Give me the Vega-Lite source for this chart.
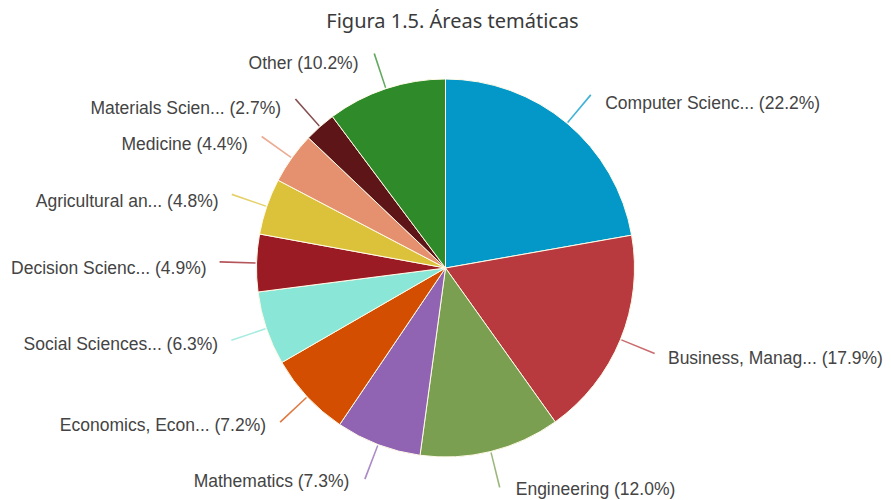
{
  "$schema": "https://vega.github.io/schema/vega-lite/v6.json",
  "width": 891,
  "height": 464,
  "autosize": {"type": "none"},
  "padding": {"top": 36, "left": 0, "right": 0, "bottom": 0},
  "background": "white",
  "title": {
    "text": "Figura 1.5. Áreas temáticas",
    "font": "Noto Sans",
    "fontSize": 20,
    "fontWeight": "normal",
    "color": "#3a3a3a",
    "anchor": "middle",
    "frame": "group",
    "offset": 4,
    "dx": 7
  },
  "data": {
    "values": [
      {"order": 1, "name": "Computer Scienc...", "share": 22.2},
      {"order": 2, "name": "Business, Manag...", "share": 17.9},
      {"order": 3, "name": "Engineering", "share": 12.0},
      {"order": 4, "name": "Mathematics", "share": 7.3},
      {"order": 5, "name": "Economics, Econ...", "share": 7.2},
      {"order": 6, "name": "Social Sciences...", "share": 6.3},
      {"order": 7, "name": "Decision Scienc...", "share": 4.9},
      {"order": 8, "name": "Agricultural an...", "share": 4.8},
      {"order": 9, "name": "Medicine", "share": 4.4},
      {"order": 10, "name": "Materials Scien...", "share": 2.7},
      {"order": 11, "name": "Other", "share": 10.2}
    ]
  },
  "transform": [
    {"joinaggregate": [{"op": "sum", "field": "share", "as": "total"}]},
    {"window": [{"op": "sum", "field": "share", "as": "cum"}], "sort": [{"field": "order", "order": "ascending"}], "frame": [null, 0]},
    {"calculate": "datum.cum - datum.share / 2", "as": "mid"},
    {"calculate": "datum.mid - 0.06", "as": "a1"},
    {"calculate": "datum.mid + 0.06", "as": "a2"},
    {"calculate": "datum.mid < datum.total / 2 ? 'right' : 'left'", "as": "side"},
    {"calculate": "datum.name + ' (' + format(datum.share, '.1f') + '%)'", "as": "label"}
  ],
  "layer": [
    {
      "mark": {"type": "arc", "outerRadius": 189, "stroke": "#fffbe8", "strokeWidth": 1},
      "encoding": {
        "theta": {"field": "share", "type": "quantitative", "stack": true},
        "order": {"field": "order", "type": "quantitative"},
        "color": {
          "field": "name",
          "type": "nominal",
          "legend": null,
          "scale": {
            "domain": ["Computer Scienc...", "Business, Manag...", "Engineering", "Mathematics", "Economics, Econ...", "Social Sciences...", "Decision Scienc...", "Agricultural an...", "Medicine", "Materials Scien...", "Other"],
            "range": ["#0398c8", "#b83a3f", "#7a9f51", "#9063b3", "#d44e02", "#8ae6d6", "#9b1b24", "#dcc23a", "#e5906f", "#5e1518", "#2f8b2a"]
          }
        }
      }
    },
    {
      "mark": {"type": "arc", "outerRadius": 226, "innerRadius": 190, "opacity": 0.75},
      "encoding": {
        "theta": {"field": "a1", "type": "quantitative", "stack": null},
        "theta2": {"field": "a2"},
        "color": {"field": "name", "type": "nominal", "legend": null}
      }
    },
    {
      "transform": [{"filter": "datum.side == 'right'"}],
      "mark": {"type": "text", "align": "left", "baseline": "middle", "font": "Liberation Sans", "fontSize": 17.5, "color": "#444444", "dx": 17, "dy": 6.5},
      "encoding": {
        "theta": {"field": "mid", "type": "quantitative", "stack": null},
        "radius": {"value": 222},
        "text": {"field": "label"}
      }
    },
    {
      "transform": [{"filter": "datum.side == 'left'"}],
      "mark": {"type": "text", "align": "right", "baseline": "middle", "font": "Liberation Sans", "fontSize": 17.5, "color": "#444444", "dx": -17, "dy": 6.5},
      "encoding": {
        "theta": {"field": "mid", "type": "quantitative", "stack": null},
        "radius": {"value": 222},
        "text": {"field": "label"}
      }
    }
  ]
}
